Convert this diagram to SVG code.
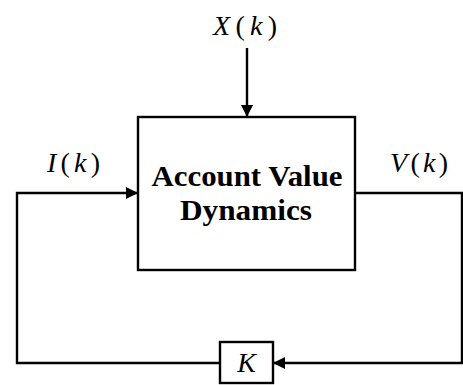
<svg xmlns="http://www.w3.org/2000/svg" width="463" height="385" viewBox="0 0 463 385">
<style>
.box{fill:#fff;stroke:#000;stroke-width:2.4}
.ln{fill:none;stroke:#000;stroke-width:2.4}
.m{font-family:"Liberation Serif",serif;font-size:28px;fill:#000}
.i{font-style:italic}
.t{font-family:"Liberation Serif",serif;font-size:30px;font-weight:bold;fill:#000;text-anchor:middle}
</style>
<defs>
<marker id="ah" viewBox="0 0 10 10" refX="10" refY="5" markerWidth="12" markerHeight="12" markerUnits="userSpaceOnUse" orient="auto">
<path d="M0,0 L10,5 L0,10 z" fill="#000"/>
</marker>
</defs>
<rect width="463" height="385" fill="#fff"/>
<g id="connectors">
<line class="ln" x1="247" y1="48" x2="247" y2="117" marker-end="url(#ah)"/>
<polyline class="ln" points="220,363 17,363 17,193 138,193" marker-end="url(#ah)"/>
<polyline class="ln" points="355,193 462,193 462,363 273,363" marker-end="url(#ah)"/>
</g>
<g id="dynamics">
<rect class="box" x="138" y="117" width="217" height="153"/>
<text class="t" x="247" y="186" textLength="191" lengthAdjust="spacingAndGlyphs">Account Value</text>
<text class="t" x="246" y="220" textLength="132" lengthAdjust="spacingAndGlyphs">Dynamics</text>
</g>
<g id="gain">
<rect class="box" x="220" y="342" width="53" height="41"/>
<text class="m i" x="246.5" y="372" text-anchor="middle">K</text>
</g>
<g id="labels">
<text class="m" x="213" y="35" textLength="64" lengthAdjust="spacing"><tspan class="i">X</tspan>(<tspan class="i">k</tspan>)</text>
<text class="m" x="47" y="172" textLength="53" lengthAdjust="spacing"><tspan class="i">I</tspan>(<tspan class="i">k</tspan>)</text>
<text class="m" x="390" y="172" textLength="58" lengthAdjust="spacing"><tspan class="i">V</tspan>(<tspan class="i">k</tspan>)</text>
</g>
</svg>
